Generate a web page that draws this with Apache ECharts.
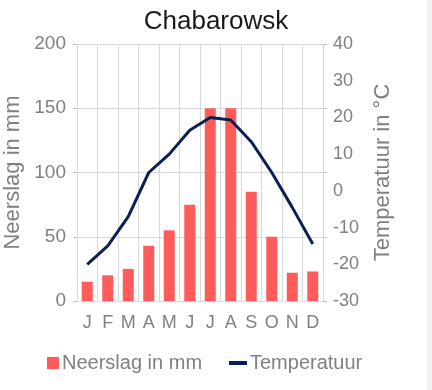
<!DOCTYPE html>
<html><head><meta charset="utf-8">
<script src="https://cdn.jsdelivr.net/npm/echarts@6/dist/echarts.min.js"></script>
<style>html,body{margin:0;padding:0;background:#fff}#c{width:432px;height:390px}</style>
</head><body><div id="c"></div>
<script>
var months = ['J','F','M','A','M','J','J','A','S','O','N','D'];
var neerslag = [15, 20, 25, 43, 55, 75, 150, 150, 85, 50, 22, 23];
var temperatuur = [-20, -15, -7, 5, 10, 16.5, 20, 19.3, 13.4, 5, -4.5, -14.5];
var title = 'Chabarowsk';
var barName = 'Neerslag in mm';
var lineName = 'Temperatuur';
var leftAxisName = 'Neerslag in mm';
var rightAxisName = 'Temperatuur in °C';

var gray = '#808080';
var font = 'Liberation Sans, Arial, sans-serif';
var chart = echarts.init(document.getElementById('c'), null, {renderer:'canvas'});
chart.setOption({
  animation: false,
  backgroundColor: '#fff',
  textStyle: {fontFamily: font},
  title: {text: title, left: 'center', top: 4, textStyle: {fontFamily: font, fontSize: 26, fontWeight: 'normal', color: '#1a1a1a'}},
  graphic: [{type: 'rect', shape: {x: 427, y: 0, width: 5, height: 390}, style: {fill: '#f0f0f0'}, silent: true}],
  legend: [
    {data: [barName], left: 47, top: 353, padding: 0, itemWidth: 12, itemHeight: 12, icon: 'rect', itemGap: 0,
     textStyle: {fontFamily: font, fontSize: 20, color: gray, padding: [0,0,0,-2]}},
    {data: [lineName], left: 229, top: 353, padding: 0, itemWidth: 18, itemHeight: 4, icon: 'rect',
     textStyle: {fontFamily: font, fontSize: 20, color: gray, padding: [0,0,0,-2]}}
  ],
  grid: {left: 77, right: 109, top: 44, bottom: 89, containLabel: false, outerBoundsMode: 'none'},
  xAxis: {
    type: 'category', data: months, boundaryGap: true,
    axisLine: {lineStyle: {color: '#d9d9d9', width: 1}},
    axisTick: {show: false},
    axisLabel: {color: gray, fontSize: 18, fontFamily: font, margin: 13, interval: 0},
    splitLine: {show: true, lineStyle: {color: '#d9d9d9', width: 1}}
  },
  yAxis: [
    {type: 'value', min: 0, max: 200, interval: 50, position: 'left',
     name: leftAxisName, nameLocation: 'middle', nameGap: 53, nameRotate: 90, nameMoveOverlap: false,
     nameTextStyle: {color: gray, fontSize: 22, fontFamily: font},
     axisLine: {show: false},
     axisTick: {show: true, length: 4, lineStyle: {color: '#bfbfbf'}},
     axisLabel: {color: gray, fontSize: 19, fontFamily: font, margin: 11},
     splitLine: {show: true, lineStyle: {color: '#d9d9d9', width: 1}}},
    {type: 'value', min: -30, max: 40, interval: 10, position: 'right',
     name: rightAxisName, nameLocation: 'middle', nameGap: 49, nameRotate: 90, nameMoveOverlap: false,
     nameTextStyle: {color: gray, fontSize: 22, fontFamily: font},
     axisLine: {show: false},
     axisTick: {show: false},
     axisLabel: {color: gray, fontSize: 18, fontFamily: font, margin: 10},
     splitLine: {show: false}},
    {type: 'value', min: 0, max: 200, interval: 50, position: 'right',
     axisLine: {show: false},
     axisTick: {show: true, length: 4, lineStyle: {color: '#bfbfbf'}},
     axisLabel: {show: false},
     splitLine: {show: false}}
  ],
  series: [
    {name: barName, type: 'bar', data: neerslag, yAxisIndex: 0, barWidth: 11,
     itemStyle: {color: '#FF5B5B'}},
    {name: lineName, type: 'line', data: temperatuur, yAxisIndex: 1, symbol: 'none',
     lineStyle: {color: '#0A1F52', width: 3}, itemStyle: {color: '#0A1F52'}}
  ]
});
</script></body></html>
